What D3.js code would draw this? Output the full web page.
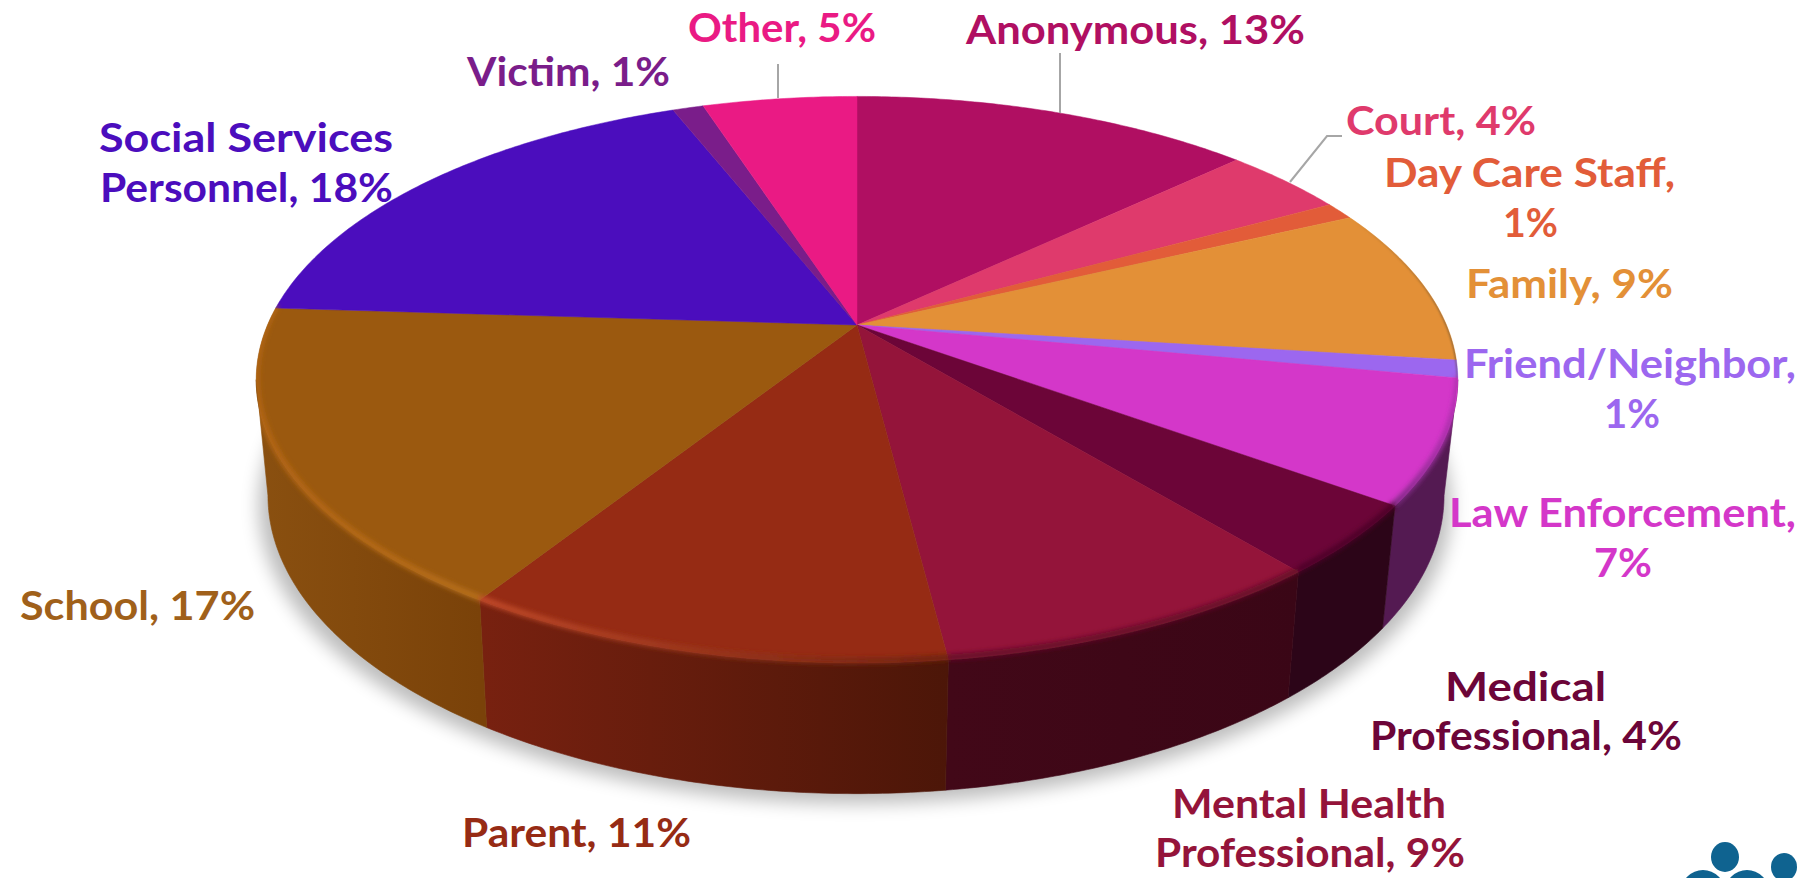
<!DOCTYPE html>
<html>
<head>
<meta charset="utf-8">
<script src="https://cdn.jsdelivr.net/npm/d3@7"></script>
<style>
  html, body { margin: 0; padding: 0; background: #fff; overflow: hidden; }
  text { font-family: Lato, "Open Sans", sans-serif; font-weight: 700; font-size: 41px; }
</style>
</head>
<body>
<div id="my_dataviz"></div>
<script>
// chart data
var categories = ["Anonymous", "Court", "Day Care Staff", "Family", "Friend/Neighbor", "Law Enforcement",
  "Medical Professional", "Mental Health Professional", "Parent", "School", "Social Services Personnel", "Victim", "Other"];
var shares = [13, 4, 1, 9, 1, 7, 4, 9, 11, 17, 18, 1, 5];

// colours, same order as the categories
var topColors = ["#b00f62", "#df3a6c", "#e25c39", "#e39037", "#9c67ef", "#d437c9",
  "#6c0538", "#94143a", "#962b14", "#9b590f", "#4b0dbd", "#7a1d8a", "#ea1a84"];
var textColors = ["#b00f62", "#df3a6c", "#e25c39", "#e39037", "#9c67ef", "#d437c9",
  "#6c0538", "#94143a", "#962b14", "#a0601a", "#4b0dbd", "#7a1d8a", "#ea1a84"];
var sideColors = [null, null, null, null, null, ["#541a52", "#541a52"],
  ["#2c0518", "#2c0518"], ["#3a0616", "#420818"], ["#4c1608", "#782110"], ["#7a4209", "#8a5010"], null, null, null];
// thin edge shading on the far right, wider soft bevel on the front
var thinRim = [null, null, null, ["#e39037", "#6b5030"], ["#6b5030", "#5c4a80"], null,
  null, null, null, null, null, null, null];
var softRim = [null, null, null, null, null, ["#b030b0", "#7a2a80"],
  ["#4c0428", "#4c0428"], ["#640c28", "#640c28"], ["#6a2010", "#c44c2a"], ["#b8701c", "#b46614"], null, null, null];

// where each label line goes: [text, left, right, baseline]
var labelLines = [
  [["Anonymous, 13%", 966, 1305, 44]],
  [["Court, 4%", 1346, 1536, 135]],
  [["Day Care Staff,", 1384, 1675, 187], ["1%", 1503, 1558, 237]],
  [["Family, 9%", 1466, 1673, 298]],
  [["Friend/Neighbor,", 1464, 1796, 378], ["1%", 1604, 1660, 428]],
  [["Law Enforcement,", 1449, 1796, 527], ["7%", 1594, 1652, 577]],
  [["Medical", 1445, 1606, 701], ["Professional, 4%", 1370, 1682, 750]],
  [["Mental Health", 1172, 1446, 818], ["Professional, 9%", 1155, 1465, 867]],
  [["Parent, 11%", 462, 691, 847]],
  [["School, 17%", 20, 255, 620]],
  [["Social Services", 99, 393, 152], ["Personnel, 18%", 100, 393, 202]],
  [["Victim, 1%", 467, 670, 86]],
  [["Other, 5%", 688, 876, 42]]
];
var leaders = [
  [[1060, 53], [1060, 113]],
  [[778, 98], [778, 64]],
  [[1290, 182], [1327, 136], [1342, 136]]
];

var width = 1820, height = 878;

var svg = d3.select("#my_dataviz")
  .append("svg")
    .attr("width", width)
    .attr("height", height);

var defs = svg.append("defs");
function blurFilter(id, amount) {
  defs.append("filter").attr("id", id)
      .attr("filterUnits", "userSpaceOnUse")
      .attr("x", 0).attr("y", 0).attr("width", width).attr("height", height)
    .append("feGaussianBlur").attr("stdDeviation", amount);
}
blurFilter("shadowBlur", 9);
blurFilter("softBlur", 2.6);
blurFilter("thinBlur", 0.8);

// the disc is a circle seen in perspective, so top and bottom faces are each a projected circle
var tilt = 0.193;
var topFace = {cx: 857, cy: 325, rx: 589.5, ry: 272.7};
var bottomFace = {cx: 856, cy: 438, rx: 577, ry: 287};

function project(face, angle) {
  var u = Math.sin(angle), v = -Math.cos(angle), w = 1 - tilt * v;
  return [face.cx + face.rx * u / w, face.cy + face.ry * v / w];
}
function arcPoints(face, a0, a1) {
  var n = Math.max(2, Math.ceil(Math.abs(a1 - a0) / 0.01));
  return d3.range(n + 1).map(function(i) { return project(face, a0 + (a1 - a0) * i / n); });
}

var pie = d3.pie().sort(null).startAngle(0).endAngle(2 * Math.PI);
var slices = pie(shares);
var line = d3.line();

// only this part of the rim faces the viewer
var sideFrom = Math.acos(-tilt), sideTo = 2 * Math.PI - sideFrom;

// outline of the whole disc, keeps the bevel blur off the white
defs.append("clipPath").attr("id", "discClip")
  .append("path")
    .attr("d", line(arcPoints(topFace, sideTo - 2 * Math.PI, sideFrom)
      .concat(arcPoints(bottomFace, sideFrom, sideTo))) + "Z");

// soft shadow under the disc
svg.append("path")
  .attr("d", line(arcPoints({cx: 855, cy: 448, rx: 585, ry: 287}, 0, 2 * Math.PI)) + "Z")
  .attr("fill", "#000")
  .attr("opacity", 0.26)
  .attr("filter", "url(#shadowBlur)");

function stripGradient(id, pair, x0, x1) {
  var g = defs.append("linearGradient").attr("id", id)
    .attr("gradientUnits", "userSpaceOnUse")
    .attr("x1", x0).attr("x2", x1).attr("y1", 0).attr("y2", 0);
  g.append("stop").attr("offset", 0).attr("stop-color", pair[0]);
  g.append("stop").attr("offset", 1).attr("stop-color", pair[1]);
  return "url(#" + id + ")";
}

// side wall
slices.forEach(function(d, i) {
  if (!sideColors[i]) return;
  var a0 = Math.max(d.startAngle, sideFrom), a1 = Math.min(d.endAngle, sideTo);
  if (a1 <= a0) return;
  var outer = arcPoints(topFace, a0, a1), lower = arcPoints(bottomFace, a0, a1).reverse();
  var fill = stripGradient("side" + i, sideColors[i], outer[0][0], outer[outer.length - 1][0]);
  svg.append("path").attr("d", line(outer.concat(lower)) + "Z").attr("fill", fill)
    .attr("stroke", fill).attr("stroke-width", 0.6);
});

// top face
svg.append("g").selectAll("path")
  .data(slices)
  .join("path")
    .attr("d", function(d) {
      return line([[topFace.cx, topFace.cy]].concat(arcPoints(topFace, d.startAngle, d.endAngle))) + "Z";
    })
    .attr("fill", function(d, i) { return topColors[i]; })
    .attr("stroke", function(d, i) { return topColors[i]; })
    .attr("stroke-width", 0.5);

// bevel along the edge
function drawRim(colors, filterId, strokeWidth, inset) {
  var rim = svg.append("g").attr("clip-path", "url(#discClip)")
    .append("g").attr("filter", "url(#" + filterId + ")");
  slices.forEach(function(d, i) {
    if (!colors[i]) return;
    var pts = arcPoints(topFace, d.startAngle, d.endAngle).map(function(p) {
      return [p[0], p[1] - inset];
    });
    rim.append("path")
      .attr("d", line(pts))
      .attr("fill", "none")
      .attr("stroke", stripGradient(filterId + i, colors[i], pts[0][0], pts[pts.length - 1][0]))
      .attr("stroke-width", strokeWidth);
  });
}
drawRim(thinRim, "thinBlur", 1.5, 0);
drawRim(softRim, "softBlur", 6, 2);

// leader lines
svg.append("g").selectAll("path")
  .data(leaders)
  .join("path")
    .attr("d", function(d) { return line(d); })
    .attr("fill", "none")
    .attr("stroke", "#a6a6a6")
    .attr("stroke-width", 2);

// labels
labelLines.forEach(function(rows, i) {
  rows.forEach(function(r) {
    svg.append("text")
      .attr("x", r[1])
      .attr("y", r[3])
      .attr("textLength", r[2] - r[1])
      .attr("lengthAdjust", "spacingAndGlyphs")
      .attr("fill", textColors[i])
      .text(r[0]);
  });
});

// logo, cut off by the bottom of the picture
var logo = svg.append("g").attr("fill", "#0f6390");
logo.append("ellipse").attr("cx", 1725).attr("cy", 857).attr("rx", 14).attr("ry", 15);
logo.append("ellipse").attr("cx", 1784).attr("cy", 867).attr("rx", 13).attr("ry", 14);
logo.append("circle").attr("cx", 1703).attr("cy", 892).attr("r", 22);
logo.append("circle").attr("cx", 1747).attr("cy", 892).attr("r", 22);
</script>
</body>
</html>
